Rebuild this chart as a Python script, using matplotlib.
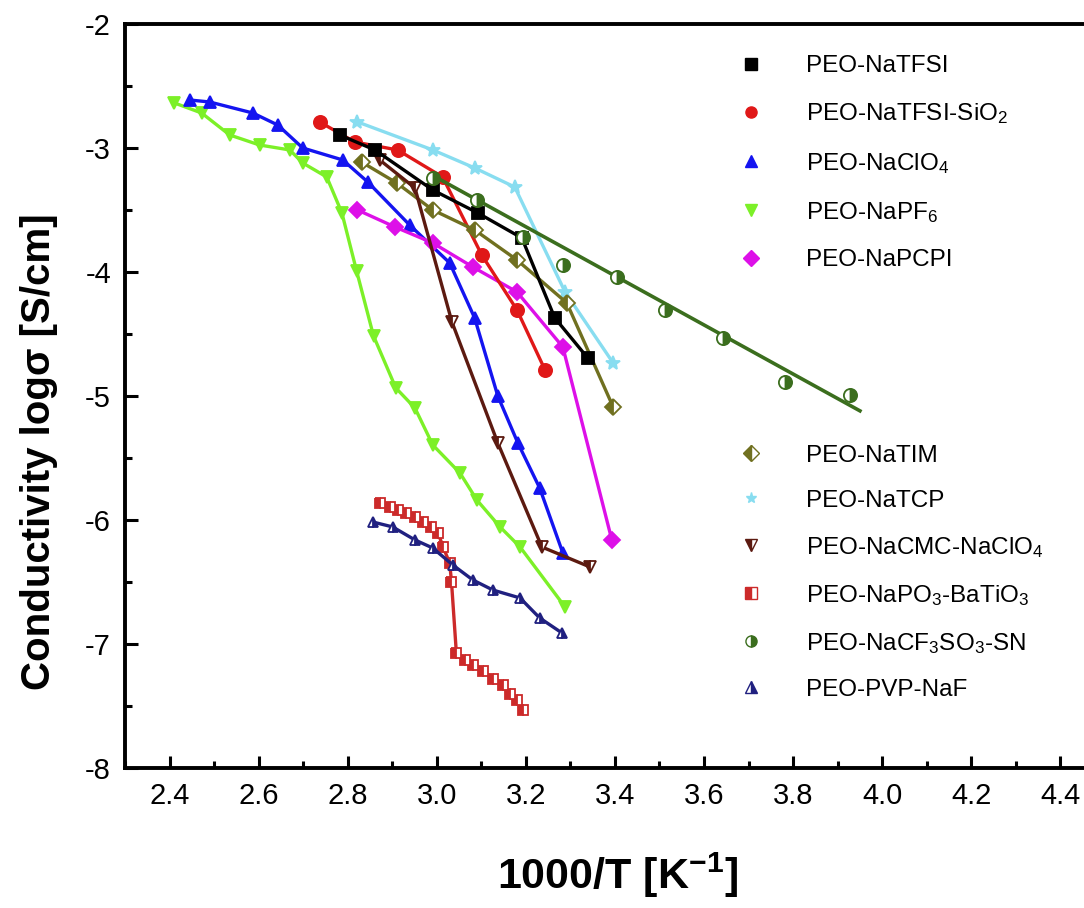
import matplotlib
matplotlib.use("Agg")
import matplotlib.pyplot as plt
from matplotlib.lines import Line2D
from matplotlib.ticker import MultipleLocator

plt.rcParams['font.family'] = ['Liberation Sans', 'DejaVu Sans']
plt.rcParams['mathtext.fontset'] = 'custom'
plt.rcParams['mathtext.rm'] = 'Liberation Sans'
plt.rcParams['mathtext.it'] = 'Liberation Sans:italic'
plt.rcParams['mathtext.bf'] = 'Liberation Sans:bold'
plt.rcParams['mathtext.default'] = 'regular'
plt.rcParams['axes.unicode_minus'] = False

# ---------------- data ----------------
tfsi_x = [2.782, 2.861, 2.991, 3.092, 3.191, 3.265, 3.339]
tfsi_y = [-2.895, -3.016, -3.339, -3.524, -3.726, -4.371, -4.694]

sio2_x = [2.737, 2.816, 2.912, 3.013, 3.101, 3.180, 3.243]
sio2_y = [-2.790, -2.952, -3.016, -3.234, -3.863, -4.306, -4.790]

clo4_x = [2.445, 2.490, 2.587, 2.643, 2.699, 2.789, 2.845, 2.939, 3.029, 3.085, 3.137, 3.182, 3.231, 3.283]
clo4_y = [-2.613, -2.629, -2.718, -2.815, -3.000, -3.097, -3.274, -3.621, -3.927, -4.371, -5.000, -5.379, -5.742, -6.266]

pf6_x = [2.411, 2.472, 2.535, 2.602, 2.670, 2.699, 2.753, 2.787, 2.820, 2.858, 2.908, 2.951, 2.991, 3.052, 3.090, 3.142, 3.187, 3.288]
pf6_y = [-2.637, -2.718, -2.895, -2.976, -3.016, -3.121, -3.234, -3.524, -3.992, -4.516, -4.935, -5.097, -5.395, -5.621, -5.839, -6.056, -6.218, -6.702]

pcpi_x = [2.822, 2.906, 2.991, 3.081, 3.180, 3.283, 3.393]
pcpi_y = [-3.500, -3.637, -3.766, -3.960, -4.161, -4.605, -6.161]

tim_x = [2.831, 2.910, 2.991, 3.085, 3.180, 3.292, 3.396]
tim_y = [-3.113, -3.282, -3.500, -3.661, -3.903, -4.250, -5.089]

tcp_x = [2.822, 2.991, 3.085, 3.175, 3.288, 3.396]
tcp_y = [-2.790, -3.016, -3.161, -3.315, -4.161, -4.734]

cmc_x = [2.872, 2.951, 3.034, 3.137, 3.236, 3.344]
cmc_y = [-3.097, -3.323, -4.403, -5.379, -6.218, -6.379]

bto_x = [2.872, 2.894, 2.913, 2.932, 2.951, 2.969, 2.988, 3.003, 3.014, 3.029, 3.033,
         3.044, 3.063, 3.082, 3.104, 3.127, 3.149, 3.164, 3.179, 3.194]
bto_y = [-5.865, -5.893, -5.919, -5.946, -5.973, -6.013, -6.054, -6.107, -6.215, -6.350, -6.497,
         -7.075, -7.130, -7.170, -7.220, -7.280, -7.330, -7.400, -7.450, -7.530]

sn_x = [2.991, 3.090, 3.193, 3.283, 3.404, 3.512, 3.643, 3.782, 3.928]
sn_y = [-3.240, -3.420, -3.720, -3.944, -4.040, -4.306, -4.532, -4.887, -4.992]
sn_fit_x = [2.99, 3.95]
sn_fit_y = [-3.22, -5.12]

pvp_x = [2.856, 2.901, 2.951, 2.991, 3.036, 3.081, 3.126, 3.187, 3.231, 3.281]
pvp_y = [-6.016, -6.056, -6.161, -6.226, -6.363, -6.484, -6.565, -6.629, -6.790, -6.911]

xtick_vals = [2.4, 2.6, 2.8, 3.0, 3.2, 3.4, 3.6, 3.8, 4.0, 4.2, 4.4]
xtick_labels = ['2.4', '2.6', '2.8', '3.0', '3.2', '3.4', '3.6', '3.8', '4.0', '4.2', '4.4']

labels1 = ['PEO-NaTFSI', 'PEO-NaTFSI-SiO$_2$', 'PEO-NaClO$_4$', 'PEO-NaPF$_6$', 'PEO-NaPCPI']
labels2 = ['PEO-NaTIM', 'PEO-NaTCP', 'PEO-NaCMC-NaClO$_4$', 'PEO-NaPO$_3$-BaTiO$_3$',
           'PEO-NaCF$_3$SO$_3$-SN', 'PEO-PVP-NaF']

# ---------------- figure ----------------
fig = plt.figure(figsize=(10.84, 9.08), dpi=100)
ax = fig.add_axes([0.1153, 0.1542, 0.904, 0.8194])

lw = 2.4

styles = [
    # x, y, color, marker, fillstyle, ms
    (pf6_x, pf6_y, '#7cf028', 'v', 'full', 9),
    (clo4_x, clo4_y, '#1414f0', '^', 'full', 9),
    (pcpi_x, pcpi_y, '#dd10e8', 'D', 'full', 8),
    (sio2_x, sio2_y, '#e01818', 'o', 'full', 9.5),
    (tcp_x, tcp_y, '#88ddf0', '*', 'full', 10),
    (tim_x, tim_y, '#707020', 'D', 'left', 8),
    (cmc_x, cmc_y, '#5c1a10', 'v', 'left', 9),
    (tfsi_x, tfsi_y, '#000000', 's', 'full', 8.5),
    (bto_x, bto_y, '#cc2a2a', 's', 'left', 6.5),
    (pvp_x, pvp_y, '#202080', '^', 'right', 7.5),
]
for x, y, c, m, fs, s in styles:
    ax.plot(x, y, color=c, lw=lw, marker=m, ms=s, fillstyle=fs,
            markerfacecoloralt='white', markeredgecolor=c, markeredgewidth=1.3)

ax.plot(sn_fit_x, sn_fit_y, color='#3b6e1e', lw=2.6)
ax.plot(sn_x, sn_y, ls='None', color='#3b6e1e', marker='o', ms=9.5, fillstyle='right',
        markerfacecoloralt='white', markeredgecolor='#3b6e1e', markeredgewidth=1.3)

ax.set_xlim(2.3, 4.5)
ax.set_ylim(-8, -2)
ax.xaxis.set_minor_locator(MultipleLocator(0.1))
ax.yaxis.set_major_locator(MultipleLocator(1))
ax.yaxis.set_minor_locator(MultipleLocator(0.5))
ax.set_xticks(xtick_vals)
ax.set_xticklabels(xtick_labels)
ax.tick_params(which='both', direction='in', top=False, right=False, width=2.2, labelsize=21)
ax.tick_params(which='major', length=9, pad=10)
ax.tick_params(which='minor', length=5)
for sp in ['left', 'bottom', 'top']:
    ax.spines[sp].set_linewidth(2.8)
ax.spines['right'].set_visible(False)

ax.set_xlabel('1000/T [K$^{-1}$]', fontsize=31, fontweight='bold')
ax.set_ylabel('Conductivity log\u03c3 [S/cm]', fontsize=29, fontweight='bold')
ax.xaxis.set_label_coords(0.503, -0.144)
ax.yaxis.set_label_coords(-0.088, 0.425)
ax.xaxis.label.set_va('center')
ax.yaxis.label.set_va('center')

# legends (markers only)
h1_specs = [('#000000', 's', 'full'), ('#e01818', 'o', 'full'), ('#1414f0', '^', 'full'),
            ('#7cf028', 'v', 'full'), ('#dd10e8', 'D', 'full')]
h2_specs = [('#707020', 'D', 'left'), ('#88ddf0', '*', 'full'), ('#5c1a10', 'v', 'left'),
            ('#cc2a2a', 's', 'left'), ('#3b6e1e', 'o', 'right'), ('#202080', '^', 'right')]

def mk(specs):
    return [Line2D([], [], ls='None', marker=m, color=c, fillstyle=f, ms=8,
                   markerfacecoloralt='white', markeredgecolor=c) for c, m, f in specs]

leg1 = ax.legend(mk(h1_specs), labels1, loc='upper left', bbox_to_anchor=(0.617, 0.971),
                 frameon=False, fontsize=17.5, handlelength=1.0, handletextpad=1.75,
                 labelspacing=1.0, borderaxespad=0)
ax.add_artist(leg1)
ax.legend(mk(h2_specs), labels2, loc='upper left', bbox_to_anchor=(0.617, 0.4476),
          frameon=False, fontsize=17.5, handlelength=1.0, handletextpad=1.75,
          labelspacing=0.95, borderaxespad=0)

fig.savefig('out.png', dpi=100)
